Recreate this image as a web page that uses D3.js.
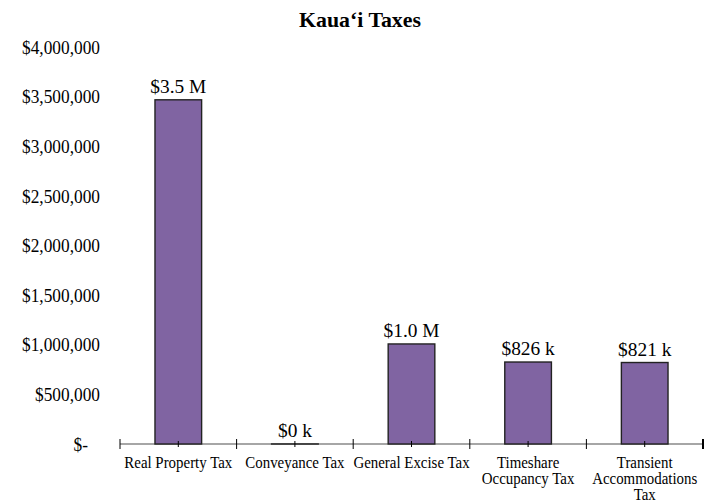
<!DOCTYPE html>
<html><head><meta charset="utf-8">
<script src="https://cdn.jsdelivr.net/npm/d3@7"></script>
<style>body{margin:0;background:#fff}svg{display:block}text{font-family:"Liberation Serif","Times New Roman",serif;fill:#000}</style>
</head><body>
<svg id="c" width="712" height="504"></svg>
<script>
const categories = ["Real Property Tax","Conveyance Tax","General Excise Tax","Timeshare Occupancy Tax","Transient Accommodations Tax"];
const categoryLines = [["Real Property Tax"],["Conveyance Tax"],["General Excise Tax"],["Timeshare","Occupancy Tax"],["Transient","Accommodations","Tax"]];
const values = [3468000, 300, 1008000, 826000, 821000];
const valueLabels = ["$3.5 M","$0 k","$1.0 M","$826 k","$821 k"];
const yTicks = [0,500000,1000000,1500000,2000000,2500000,3000000,3500000,4000000];
const yTickLabels = ["$-","$500,000","$1,000,000","$1,500,000","$2,000,000","$2,500,000","$3,000,000","$3,500,000","$4,000,000"];

const svg = d3.select("#c");
const x = d3.scaleBand().domain(categories).range([120,703]).paddingInner(0.6).paddingOuter(0.3);
const xb = d3.scaleBand().domain(categories).range([120,703]);
const y = d3.scaleLinear().domain([0,4000000]).range([444,47]);

function condensed(fontSize, weight, refText, refWidth){
  const probe = svg.append("text").style("font-size",fontSize+"px").style("font-weight",weight).text(refText);
  const w = probe.node().getComputedTextLength(); probe.remove();
  return refWidth / w;
}

const fTitle = condensed(21,"bold","Kaua‘i Taxes",122);
svg.append("text").attr("transform",`translate(360,27) scale(${fTitle},1)`).attr("text-anchor","middle")
  .style("font-size","21px").style("font-weight","bold").text("Kaua‘i Taxes");

const fY = condensed(19,"normal","$4,000,000",78);
svg.selectAll(".yl").data(yTicks).enter().append("text")
  .attr("transform",d=>`translate(${d===0?88:100},${y(d)}) scale(${fY},1)`).attr("dy","0.35em")
  .attr("text-anchor","end").style("font-size","19px")
  .text((d,i)=>yTickLabels[i]);

// axis line (under bars)
svg.append("line").attr("x1",120).attr("x2",703).attr("y1",y(0)).attr("y2",y(0))
  .attr("stroke","#888").attr("stroke-width",1.5);

// bars
svg.selectAll(".bar").data(values).enter().append("rect")
  .attr("x",(d,i)=>x(categories[i])).attr("width",x.bandwidth())
  .attr("y",d=>y(d)).attr("height",d=>y(0)-y(d))
  .attr("fill","#8064A2").attr("stroke","#222").attr("stroke-width",1.4);

const bounds = categories.map(c=>xb(c)).concat([xb.range()[1]]);
svg.selectAll(".bt").data(bounds).enter().append("line")
  .attr("x1",d=>d).attr("x2",d=>d).attr("y1",y(0)-5).attr("y2",y(0)+5)
  .attr("stroke","#000").attr("stroke-width",(d,i)=> i===bounds.length-1?2:1);
svg.selectAll(".ct").data(categories).enter().append("line")
  .attr("x1",d=>xb(d)+xb.bandwidth()/2).attr("x2",d=>xb(d)+xb.bandwidth()/2)
  .attr("y1",y(0)-3).attr("y2",y(0)+3).attr("stroke","#000").attr("stroke-width",1);

const fV = condensed(19,"normal","$3.5 M",56);
svg.selectAll(".vl").data(values).enter().append("text")
  .attr("transform",(d,i)=>`translate(${x(categories[i])+x.bandwidth()/2},${y(d)-7}) scale(${fV},1)`)
  .attr("text-anchor","middle").style("font-size","19px")
  .text((d,i)=>valueLabels[i]);

const fC = condensed(16,"normal","Real Property Tax",108);
categoryLines.forEach((lines,i)=>{
  const cx = xb(categories[i])+xb.bandwidth()/2;
  const t = svg.append("text").attr("transform",`translate(${cx},468) scale(${fC},1)`)
    .attr("text-anchor","middle").style("font-size","16px");
  lines.forEach((l,j)=>t.append("tspan").attr("x",0).attr("dy",j?16:0).text(l));
});
</script>
</body></html>
